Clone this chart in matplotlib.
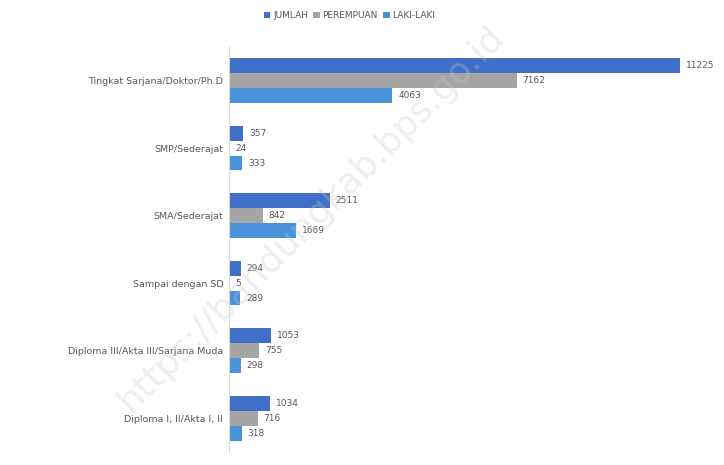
import numpy as np
import matplotlib.pyplot as plt

kategori = ["Tingkat Sarjana/Doktor/Ph.D", "SMP/Sederajat", "SMA/Sederajat",
            "Sampai dengan SD", "Diploma III/Akta III/Sarjana Muda", "Diploma I, II/Akta I, II"]
jumlah = [11225, 357, 2511, 294, 1053, 1034]
perempuan = [7162, 24, 842, 5, 755, 716]
laki = [4063, 333, 1669, 289, 298, 318]

warna = {"JUMLAH": "#3F6FC6", "PEREMPUAN": "#A5A5A5", "LAKI-LAKI": "#4A92DA"}

fig = plt.figure(figsize=(7.24, 4.65), dpi=100)
ax = fig.add_axes([0.316, 0.028, 0.666, 0.871])

y = np.arange(len(kategori))
h = 0.22
seri = [("JUMLAH", jumlah, -h), ("PEREMPUAN", perempuan, 0), ("LAKI-LAKI", laki, h)]
for nama, nilai, off in seri:
    bars = ax.barh(y + off, nilai, height=h, color=warna[nama], label=nama)
    for b, v in zip(bars, nilai):
        ax.text(b.get_width() + 150, b.get_y() + b.get_height() / 2, str(v),
                va="center", ha="left", fontsize=6.5, color="#595959")

ax.set_ylim(len(kategori) - 0.5, -0.5)
ax.set_xlim(0, 12000)
ax.set_yticks(y)
ax.set_yticklabels(kategori, fontsize=6.8, color="#595959")
ax.tick_params(axis="y", length=0, pad=4)
ax.set_xticks([])
for s in ["top", "right", "bottom"]:
    ax.spines[s].set_visible(False)
ax.spines["left"].set_color("#D9D9D9")

fig.legend(loc="center", bbox_to_anchor=(0.483, 0.967), ncol=3, frameon=False,
           fontsize=6.5, handlelength=0.7, handleheight=0.7, columnspacing=0.6,
           handletextpad=0.3, labelcolor="#595959")

# watermark
fig.text(0.43, 0.53, "https://bandungkab.bps.go.id", rotation=45, fontsize=26,
         color="#C8C8C8", alpha=0.3, ha="center", va="center")

fig.savefig("out.png", dpi=100)
